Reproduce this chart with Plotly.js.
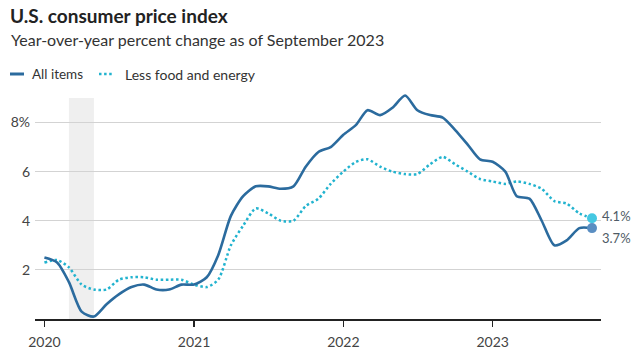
<!DOCTYPE html>
<html>
<head>
<meta charset="utf-8">
<script src="https://cdn.plot.ly/plotly-3.0.1.min.js"></script>
<style>
  html, body { margin: 0; padding: 0; background: #fff; }
  #chart { width: 638px; height: 361px; }
</style>
</head>
<body>
<div id="chart"></div>
<script>
// ---- Data (year-over-year % change, Jan 2020 – Sep 2023) ----
const startYear = 2020;
const monthCount = 45;
const months = [];
for (let i = 0; i < monthCount; i++) {
  const y = startYear + Math.floor(i / 12);
  const m = (i % 12) + 1;
  months.push(y + '-' + String(m).padStart(2, '0') + '-01');
}

const allItems = [
  2.5, 2.3, 1.5, 0.3, 0.1, 0.6, 1.0, 1.3, 1.4, 1.2, 1.2, 1.4,
  1.4, 1.7, 2.6, 4.2, 5.0, 5.4, 5.4, 5.3, 5.4, 6.2, 6.8, 7.0,
  7.5, 7.9, 8.5, 8.3, 8.6, 9.1, 8.5, 8.3, 8.2, 7.7, 7.1, 6.5,
  6.4, 6.0, 5.0, 4.9, 4.0, 3.0, 3.2, 3.7, 3.7
];

const lessFoodEnergy = [
  2.3, 2.4, 2.1, 1.4, 1.2, 1.2, 1.6, 1.7, 1.7, 1.6, 1.6, 1.6,
  1.4, 1.3, 1.6, 3.0, 3.8, 4.5, 4.3, 4.0, 4.0, 4.6, 4.9, 5.5,
  6.0, 6.4, 6.5, 6.2, 6.0, 5.9, 5.9, 6.3, 6.6, 6.3, 6.0, 5.7,
  5.6, 5.5, 5.6, 5.5, 5.3, 4.8, 4.7, 4.3, 4.1
];

const seriesNames = ['All items', 'Less food and energy'];
const yearTicks = ['2020-01-01', '2021-01-01', '2022-01-01', '2023-01-01'];
const yearLabels = ['2020', '2021', '2022', '2023'];
const yTickVals = [2, 4, 6, 8];
const yTickText = ['2', '4', '6', '8%'];
const recession = ['2020-03-01', '2020-05-01'];
const shadeTop = 9;

// ---- Styling ----
const W = 638, H = 361;
const M = { l: 35, r: 37, t: 93, b: 42 };
const PW = W - M.l - M.r, PH = H - M.t - M.b;
const px2x = px => (px - M.l) / PW;
const px2y = py => (H - M.b - py) / PH;

const cAll = '#2b6b9e';
const cCore = '#22b3cf';
const cAllDot = '#5a8ec2';
const cCoreDot = '#45c8e2';
const FONT = 'Lato, "Open Sans", sans-serif';

const last = monthCount - 1;

const traces = [
  {
    x: months, y: lessFoodEnergy, type: 'scatter', mode: 'lines',
    name: seriesNames[1],
    line: { color: cCore, width: 2.5, dash: '2.5px,2.6px', shape: 'spline', smoothing: 0.7 },
    hoverinfo: 'skip'
  },
  {
    x: months, y: allItems, type: 'scatter', mode: 'lines',
    name: seriesNames[0],
    line: { color: cAll, width: 2.6, shape: 'spline', smoothing: 0.7 },
    hoverinfo: 'skip'
  },
  {
    x: [months[last]], y: [lessFoodEnergy[last]], type: 'scatter', mode: 'markers',
    marker: { color: cCoreDot, size: 10 }, cliponaxis: false, showlegend: false
  },
  {
    x: [months[last]], y: [allItems[last]], type: 'scatter', mode: 'markers',
    marker: { color: cAllDot, size: 10 }, cliponaxis: false, showlegend: false
  }
];

const layout = {
  width: W, height: H,
  margin: M,
  paper_bgcolor: '#fff', plot_bgcolor: '#fff',
  showlegend: false,
  font: { family: FONT, color: '#444' },
  title: {
    text: '<b>U.S. consumer price index</b>',
    font: { family: FONT, size: 19, color: '#222' },
    xref: 'container', yref: 'container',
    x: 10 / W, xanchor: 'left',
    y: 1 - 16 / H, yanchor: 'middle'
  },
  xaxis: {
    type: 'date',
    range: ['2019-12-09', '2023-09-23'],
    showgrid: false, zeroline: false,
    showline: true, linecolor: '#222', linewidth: 1.5,
    ticks: 'outside', ticklen: 6, tickwidth: 1.5, tickcolor: '#222',
    tickmode: 'array', tickvals: yearTicks, ticktext: yearLabels,
    tickfont: { family: FONT, size: 14, color: '#444' },
    ticklabelstandoff: 4,
    fixedrange: true
  },
  yaxis: {
    range: [0, 9.2],
    showgrid: true, gridcolor: '#d3d3d3', gridwidth: 1,
    zeroline: false, showline: false, ticks: '',
    tickmode: 'array', tickvals: yTickVals, ticktext: yTickText,
    tickfont: { family: FONT, size: 14, color: '#444' },
    ticklabelstandoff: 4,
    fixedrange: true
  },
  shapes: [
    {
      type: 'rect', xref: 'x', yref: 'y',
      x0: recession[0], x1: recession[1], y0: 0, y1: shadeTop,
      fillcolor: '#efefef', line: { width: 0 }, layer: 'below'
    },
    // legend keys
    {
      type: 'line', xref: 'paper', yref: 'paper',
      x0: px2x(10), x1: px2x(24), y0: px2y(74), y1: px2y(74),
      line: { color: cAll, width: 3 }
    },
    {
      type: 'line', xref: 'paper', yref: 'paper',
      x0: px2x(99), x1: px2x(114), y0: px2y(74), y1: px2y(74),
      line: { color: cCore, width: 2.5, dash: '2.5px,2.6px' }
    }
  ],
  annotations: [
    {
      text: 'Year-over-year percent change as of September 2023',
      xref: 'paper', yref: 'paper', x: px2x(9), y: px2y(40),
      xanchor: 'left', yanchor: 'middle', showarrow: false,
      font: { family: FONT, size: 16, color: '#333' }
    },
    {
      text: seriesNames[0],
      xref: 'paper', yref: 'paper', x: px2x(30), y: px2y(74),
      xanchor: 'left', yanchor: 'middle', showarrow: false,
      font: { family: FONT, size: 13.5, color: '#333' }
    },
    {
      text: seriesNames[1],
      xref: 'paper', yref: 'paper', x: px2x(123), y: px2y(74),
      xanchor: 'left', yanchor: 'middle', showarrow: false,
      font: { family: FONT, size: 14, color: '#333' }
    },
    {
      text: lessFoodEnergy[last].toFixed(1) + '%',
      xref: 'x', yref: 'y', x: months[last], y: lessFoodEnergy[last],
      xanchor: 'left', yanchor: 'middle', xshift: 8, yshift: 2, showarrow: false,
      font: { family: FONT, size: 13, color: '#4f5b66' }
    },
    {
      text: allItems[last].toFixed(1) + '%',
      xref: 'x', yref: 'y', x: months[last], y: allItems[last],
      xanchor: 'left', yanchor: 'middle', xshift: 8, yshift: -10, showarrow: false,
      font: { family: FONT, size: 13, color: '#4f5b66' }
    }
  ]
};

Plotly.newPlot('chart', traces, layout, { staticPlot: true, displayModeBar: false });
</script>
</body>
</html>
